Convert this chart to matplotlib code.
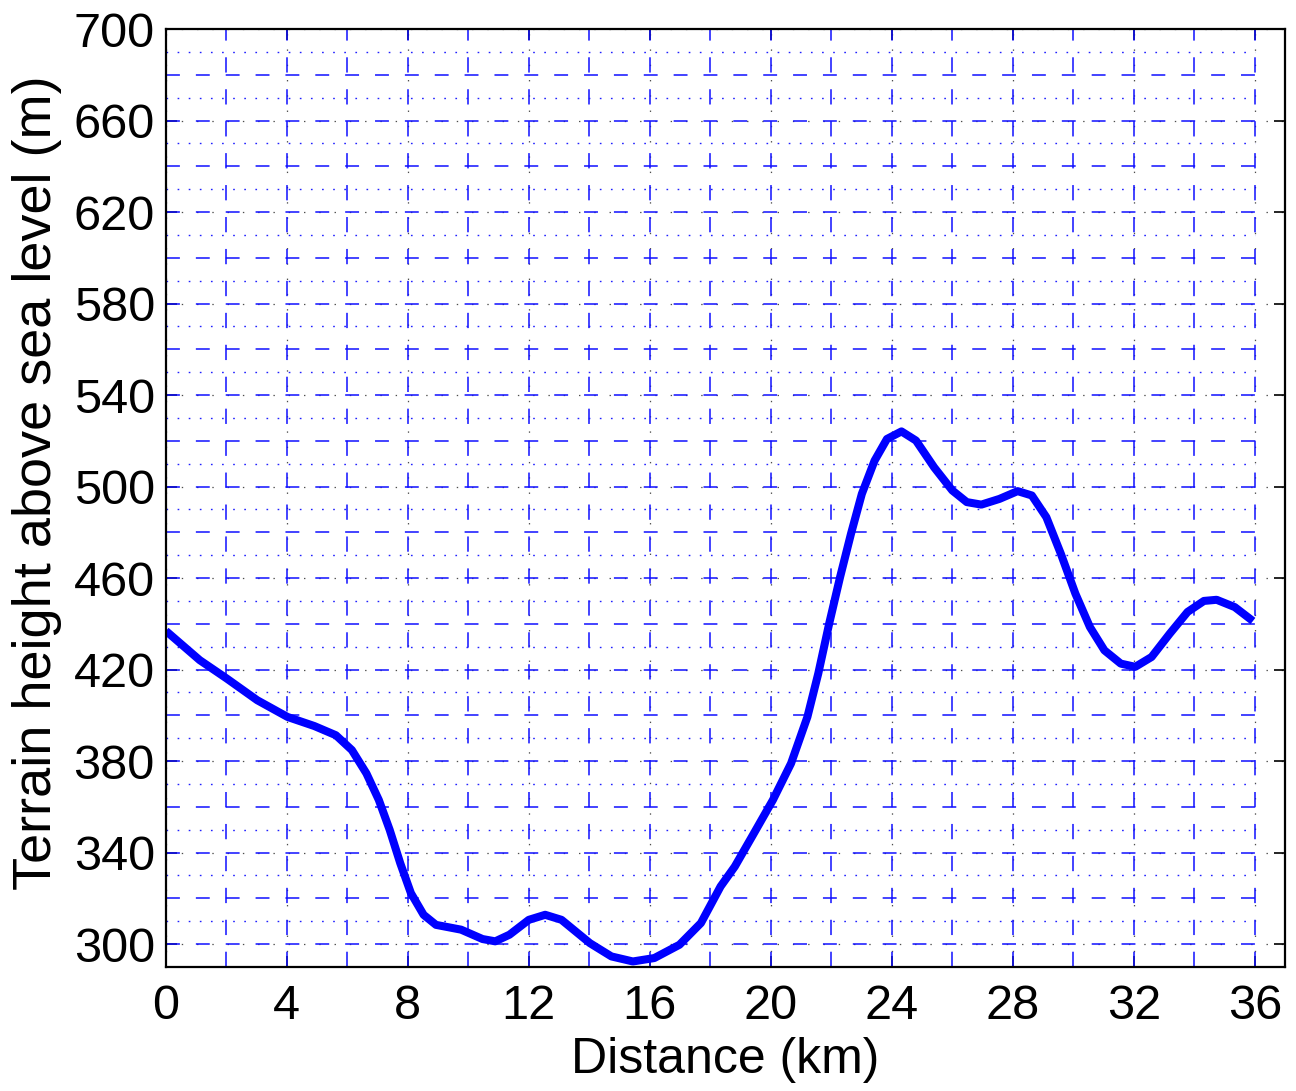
import matplotlib
matplotlib.use("Agg")
import matplotlib.pyplot as plt
import numpy as np

plt.rcParams['font.family'] = ['Liberation Sans', 'DejaVu Sans']
plt.rcParams['lines.scale_dashes'] = False

# Terrain profile
distance_km = [0.0, 1.12, 2.01, 3.02, 4.02, 4.91, 5.62, 6.15, 6.63, 7.04, 7.4, 7.75,
               8.1, 8.52, 8.93, 9.76, 10.47, 10.89, 11.36, 12.0, 12.54, 13.08, 14.02,
               14.73, 15.44, 16.15, 16.98, 17.69, 18.34, 18.81, 19.41, 20.07, 20.67,
               21.21, 21.57, 21.93, 22.29, 22.65, 23.01, 23.43, 23.84, 24.32, 24.8,
               25.4, 26.0, 26.48, 26.96, 27.56, 28.16, 28.63, 29.11, 29.59, 30.07,
               30.55, 31.03, 31.57, 32.05, 32.59, 33.19, 33.78, 34.32, 34.74, 35.34,
               35.94]
height_m = [436.9, 424.1, 416.1, 406.6, 399.3, 395.3, 391.3, 384.8, 374.6, 363.0,
            349.9, 335.3, 322.3, 312.8, 308.4, 306.3, 302.2, 301.2, 304.1, 310.6,
            312.8, 310.6, 300.4, 294.6, 292.4, 293.9, 299.7, 309.2, 325.2, 333.9,
            347.7, 363.0, 379.0, 399.3, 418.3, 440.1, 460.4, 479.3, 496.8, 511.3,
            520.8, 524.1, 520.1, 508.4, 498.3, 493.2, 492.1, 494.6, 498.0, 496.1,
            486.6, 470.6, 453.2, 438.6, 428.4, 422.6, 421.2, 425.5, 435.7, 445.2,
            450.0, 450.5, 447.3, 441.2]

x_ticks = [0, 4, 8, 12, 16, 20, 24, 28, 32, 36]
y_ticks = [300, 340, 380, 420, 460, 500, 540, 580, 620, 660, 700]
x_lim = (0, 37)
y_lim = (290, 700)

fig = plt.figure(figsize=(12.96, 10.91), dpi=100)
ax = fig.add_axes([0.128, 0.1137, 0.8635, 0.8597])
ax.set_xlim(*x_lim)
ax.set_ylim(*y_lim)

# MATLAB-like major grid (black dotted)
ax.set_xticks(x_ticks)
ax.set_yticks(y_ticks)
ax.grid(True, which='major', color='0.3', linestyle=(0, (1, 10)), linewidth=0.9)
ax.set_axisbelow(True)

# Custom blue grid
for xv in np.arange(0, 36.1, 2):
    ax.plot([xv, xv], [y_lim[0], y_lim[1]], color='#1010ff', linewidth=1.1,
            linestyle=(0, (11, 12)), zorder=1.5)
for yv in np.arange(300, 701, 20):
    ax.plot([0, 36], [yv, yv], color='#1010ff', linewidth=1.1,
            linestyle=(0, (10, 11.5)), zorder=1.5)
for yv in np.arange(310, 700, 20):
    ax.plot([0, 36], [yv, yv], color='#2020ff', linewidth=1.0,
            linestyle=(0, (1.2, 6.8)), zorder=1.5)

ax.plot(distance_km, height_m, color='#0000ff', linewidth=5.8, zorder=3,
        solid_capstyle='butt', solid_joinstyle='round')

ax.tick_params(direction='in', length=8, width=1.2, top=True, right=True,
               labelsize=35)
ax.tick_params(axis='x', pad=12)
ax.tick_params(axis='y', pad=8)
for s in ax.spines.values():
    s.set_linewidth(1.6)
    s.set_zorder(4)

ax.set_xlabel('Distance (km)', fontsize=36, labelpad=6)
ax.set_ylabel('Terrain height above sea level (m)', fontsize=39)
ax.yaxis.set_label_coords(-0.093, 0.516)

fig.savefig('out.png', dpi=100)
